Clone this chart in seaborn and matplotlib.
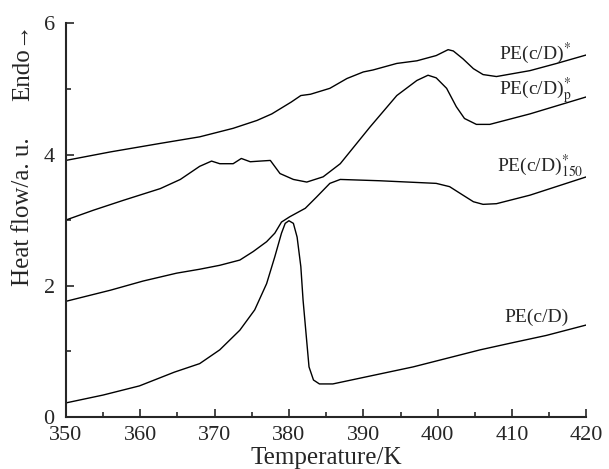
import matplotlib
matplotlib.use("Agg")
import matplotlib.pyplot as plt
import seaborn as sns
from matplotlib.ticker import MultipleLocator

# PE(c/D)*
t_star = [350, 356.0, 362.7, 368.0, 372.5, 375.7, 377.7, 380.3, 381.6, 382.9, 385.5,
          387.8, 390.0, 391.3, 394.5, 397.2, 399.8, 401.4, 402.1, 403.4, 404.8,
          406.1, 407.9, 412.4, 416.0, 420]
h_star = [3.91, 4.04, 4.17, 4.27, 4.40, 4.52, 4.62, 4.80, 4.90, 4.92, 5.01,
          5.16, 5.26, 5.29, 5.39, 5.43, 5.51, 5.60, 5.58, 5.46, 5.31,
          5.22, 5.19, 5.28, 5.39, 5.52]

# PE(c/D)p*
t_p = [350, 353.7, 357.7, 362.7, 365.4, 368.0, 369.6, 370.7, 372.5, 373.6, 374.8,
       376.1, 377.5, 378.8, 380.6, 382.4, 384.6, 386.9, 390.9, 394.5, 397.2, 398.7,
       399.8, 401.2, 402.5, 403.6, 405.2, 407.0, 412.4, 420]
h_p = [3.00, 3.15, 3.30, 3.48, 3.62, 3.82, 3.90, 3.86, 3.86, 3.94, 3.89,
       3.90, 3.91, 3.71, 3.62, 3.58, 3.66, 3.86, 4.42, 4.90, 5.13, 5.21,
       5.17, 5.01, 4.73, 4.55, 4.46, 4.46, 4.62, 4.88]

# PE(c/D)150*
t_150 = [350, 356.0, 360.4, 364.9, 368.0, 370.7, 373.4, 375.2, 377.0, 378.1, 379.0,
         380.1, 382.2, 383.7, 385.5, 386.9, 392.2, 399.8, 401.6, 403.4, 404.8,
         406.1, 407.9, 412.4, 420]
h_150 = [1.76, 1.93, 2.07, 2.19, 2.25, 2.31, 2.39, 2.52, 2.67, 2.80, 2.97,
         3.05, 3.18, 3.35, 3.56, 3.62, 3.60, 3.56, 3.51, 3.38, 3.28,
         3.24, 3.25, 3.38, 3.66]

# PE(c/D)
t_cd = [350, 355.0, 359.9, 364.6, 368.0, 370.7, 373.4, 375.4, 377.0, 378.1, 379.0,
        379.5, 380.0, 380.6, 381.1, 381.6, 381.9, 382.3, 382.7, 383.3, 384.1,
        385.9, 396.7, 405.7, 410.1, 414.6, 420]
h_cd = [0.21, 0.33, 0.47, 0.68, 0.81, 1.02, 1.32, 1.63, 2.03, 2.44, 2.80,
        2.95, 2.99, 2.95, 2.74, 2.29, 1.78, 1.27, 0.76, 0.56, 0.50,
        0.50, 0.76, 1.02, 1.13, 1.24, 1.40]

sns.set_style("ticks")
plt.rcParams['font.family'] = ['Liberation Serif', 'DejaVu Serif']
plt.rcParams['mathtext.fontset'] = 'stix'

fig = plt.figure(figsize=(6.09, 4.69), dpi=100)
ax = fig.add_axes([0.108, 0.1115, 0.855, 0.8385])

for t, h in [(t_star, h_star), (t_p, h_p), (t_150, h_150), (t_cd, h_cd)]:
    sns.lineplot(x=t, y=h, ax=ax, color='black', linewidth=1.0, estimator=None, sort=False)

ax.set_xlim(350, 420)
ax.set_ylim(0, 6)
ax.xaxis.set_major_locator(MultipleLocator(10))
ax.xaxis.set_minor_locator(MultipleLocator(5))
ax.yaxis.set_major_locator(MultipleLocator(2))
ax.yaxis.set_minor_locator(MultipleLocator(1))
ax.tick_params(which='major', direction='in', length=6, width=1.2, labelsize=16)
ax.tick_params(axis='x', which='major', pad=7)
ax.tick_params(axis='y', which='major', pad=8)
ax.tick_params(which='minor', direction='in', length=3.5, width=1.2)
for s in ['top', 'right']:
    ax.spines[s].set_visible(False)
for s in ['left', 'bottom']:
    ax.spines[s].set_linewidth(1.5)

ax.set_xlabel('Temperature/K', fontsize=18, labelpad=1)
fig.text(0.038, 0.549, 'Heat flow/a. u.', rotation=90, fontsize=18, ha='center', va='center')
fig.text(0.038, 0.868, 'Endo\u2192', rotation=90, fontsize=18, ha='center', va='center')

lab = dict(fontsize=14, ha='left', va='center')
ax.text(408.2, 5.55, r'PE(c/D)$^{*}$', **lab)
ax.text(408.2, 4.98, r'PE(c/D)$^{*}_{\mathrm{p}}$', **lab)
ax.text(408.0, 3.82, r'PE(c/D)$^{*}_{150}$', **lab)
ax.text(409.0, 1.52, 'PE(c/D)', **lab)

fig.savefig('out.png', dpi=100)
